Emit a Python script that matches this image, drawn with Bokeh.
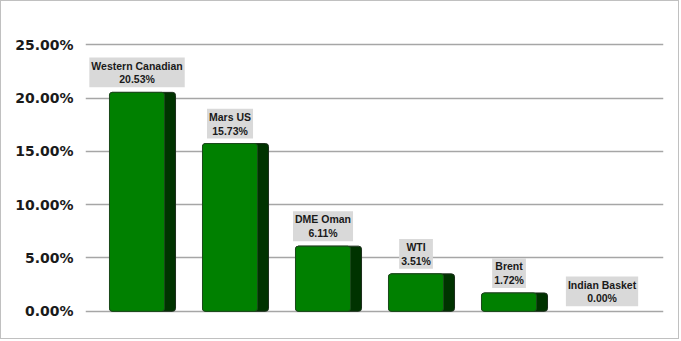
from bokeh.plotting import figure
from bokeh.models import ColumnDataSource, Label, FixedTicker, PrintfTickFormatter, Range1d
from bokeh.embed import file_html
from bokeh.resources import INLINE

# ---- data ----
categories = ["Western Canadian", "Mars US", "DME Oman", "WTI", "Brent", "Indian Basket"]
values = [20.53, 15.73, 6.11, 3.51, 1.72, 0.00]
y_ticks = [0, 5, 10, 15, 20, 25]

FACE_HALF = 0.296
SIDE = 0.118

W, H = 679, 339
p = figure(width=W, height=H, output_backend="svg", toolbar_location=None,
           x_range=Range1d(-0.554, 5.661), y_range=Range1d(-0.3, 25.3),
           min_border_left=84, min_border_right=17, min_border_top=40, min_border_bottom=26)
p.styles = {"border": "1px solid #c0c0c0"}
p.outline_line_color = None
p.background_fill_color = "white"
p.border_fill_color = "white"

xs = [i for i, v in enumerate(values) if v > 0]
vs = [v for v in values if v > 0]
src = ColumnDataSource(dict(
    l=[i - FACE_HALF for i in xs],
    r=[i + FACE_HALF for i in xs],
    rs=[i + FACE_HALF + SIDE for i in xs],
    b=[0] * len(xs),
    t=vs,
))
p.quad(left="l", right="rs", bottom="b", top="t", source=src,
       fill_color="#003300", line_color="#1c2e1c", line_width=1, border_radius=3)
p.quad(left="l", right="r", bottom="b", top="t", source=src,
       fill_color="#008000", line_color="#1c4a1c", line_width=1, border_radius=3)

for i, (c, v) in enumerate(zip(categories, values)):
    p.add_layout(Label(x=i, y=v, y_offset=5, text=f"{c}\n{v:.2f}%",
                       text_align="center", text_baseline="bottom",
                       text_font="Liberation Sans", text_font_style="bold",
                       text_font_size="10.5px", text_color="#1a1a1a",
                       text_line_height=1.15,
                       background_fill_color="#d9d9d9", padding=2))

p.xaxis.visible = False
p.xgrid.visible = False
p.ygrid.ticker = FixedTicker(ticks=y_ticks)
p.ygrid.grid_line_color = "#a6a6a6"
p.ygrid.grid_line_width = 1.3
ya = p.yaxis[0]
ya.ticker = FixedTicker(ticks=y_ticks)
ya.formatter = PrintfTickFormatter(format="%.2f%%")
ya.axis_line_color = None
ya.major_tick_line_color = None
ya.minor_tick_line_color = None
ya.major_tick_out = 0
ya.major_label_standoff = 12
ya.major_label_text_font = "DejaVu Sans"
ya.major_label_text_font_style = "bold"
ya.major_label_text_font_size = "14px"
ya.major_label_text_color = "#1a1a1a"

open("out.html", "w").write(file_html(p, INLINE))
